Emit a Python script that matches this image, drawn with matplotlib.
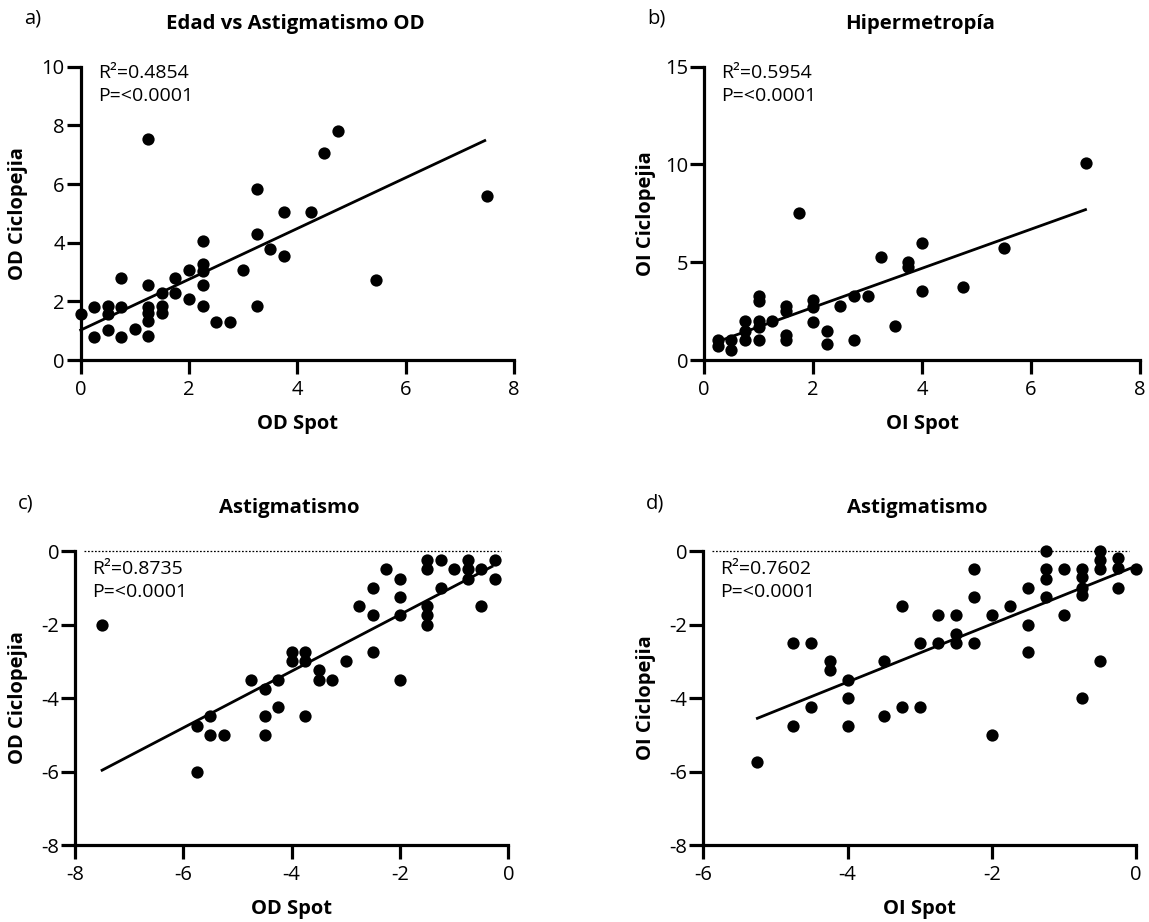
import numpy as np
import matplotlib
matplotlib.use('Agg')
import matplotlib.pyplot as plt

plt.rcParams['font.family'] = ['Open Sans', 'DejaVu Sans']
plt.rcParams['axes.unicode_minus'] = False

W, H = 1149, 922

# a) Edad vs Astigmatismo OD
a_x = [0, 0.25, 0.25, 0.5, 0.5, 0.5, 0.75, 0.75, 0.75, 1.0,
       1.25, 1.25, 1.25, 1.25, 1.25, 1.25, 1.5, 1.5, 1.5, 1.75,
       1.75, 2.0, 2.0, 2.25, 2.25, 2.25, 2.25, 2.25, 2.5, 2.75,
       3.0, 3.25, 3.25, 3.25, 3.5, 3.75, 3.75, 4.25, 4.5, 4.75,
       5.45, 7.5]
a_y = [1.57, 1.8, 0.8, 1.85, 1.57, 1.02, 2.8, 1.8, 0.8, 1.05,
       7.53, 2.56, 1.82, 1.59, 1.34, 0.82, 2.3, 1.85, 1.59, 2.8,
       2.3, 3.07, 2.08, 4.07, 3.27, 3.03, 2.56, 1.85, 1.3, 1.3,
       3.07, 5.82, 4.3, 1.83, 3.8, 5.05, 3.55, 5.05, 7.05, 7.8,
       2.74, 5.6]
a_fit = (0.866, 1.02, 0.0, 7.46)   # slope, intercept, x from, x to

# b) Hipermetropía
b_x = [0.25, 0.25, 0.5, 0.5, 0.75, 0.75, 0.75, 1.0, 1.0, 1.0,
       1.0, 1.0, 1.25, 1.5, 1.5, 1.5, 1.5, 1.75, 2.0, 2.0,
       2.0, 2.25, 2.25, 2.5, 2.75, 2.75, 3.0, 3.25, 3.5, 3.75,
       3.75, 4.0, 4.0, 4.75, 5.5, 7.0]
b_y = [1.0, 0.7, 1.0, 0.5, 2.0, 1.5, 1.0, 3.25, 3.0, 2.0,
       1.7, 1.0, 2.0, 2.75, 2.5, 1.3, 1.0, 7.5, 3.05, 2.7,
       1.95, 1.5, 0.8, 2.75, 3.25, 1.0, 3.25, 5.25, 1.75, 5.0,
       4.75, 6.0, 3.55, 3.75, 5.75, 10.05]
b_fit = (1.0, 0.69, 0.25, 7.0)

# c) Astigmatismo OD
c_x = [-7.5, -5.75, -5.75, -5.5, -5.5, -5.25, -4.75, -4.5, -4.5, -4.5,
       -4.25, -4.25, -4.0, -4.0, -3.75, -3.75, -3.75, -3.5, -3.5, -3.25,
       -3.0, -2.75, -2.5, -2.5, -2.5, -2.25, -2.0, -2.0, -2.0, -2.0,
       -1.5, -1.5, -1.5, -1.5, -1.5, -1.25, -1.25, -1.0, -0.75, -0.75,
       -0.75, -0.5, -0.5, -0.25, -0.25]
c_y = [-2.0, -4.75, -6.0, -4.5, -5.0, -5.0, -3.5, -3.75, -4.5, -5.0,
       -3.5, -4.25, -2.75, -3.0, -2.75, -3.0, -4.5, -3.25, -3.5, -3.5,
       -3.0, -1.5, -1.0, -1.75, -2.75, -0.5, -0.75, -1.25, -1.75, -3.5,
       -0.25, -0.5, -1.5, -1.75, -2.0, -0.25, -1.0, -0.5, -0.25, -0.5,
       -0.75, -0.5, -1.5, -0.25, -0.75]
c_fit = (0.77, -0.19, -7.5, -0.3)

# d) Astigmatismo OI
d_x = [-5.25, -4.75, -4.75, -4.5, -4.5, -4.25, -4.25, -4.0, -4.0, -4.0,
       -3.5, -3.5, -3.25, -3.25, -3.0, -3.0, -2.75, -2.75, -2.5, -2.5,
       -2.5, -2.25, -2.25, -2.25, -2.0, -2.0, -1.75, -1.5, -1.5, -1.5,
       -1.25, -1.25, -1.25, -1.25, -1.0, -1.0, -0.75, -0.75, -0.75, -0.75,
       -0.75, -0.5, -0.5, -0.5, -0.5, -0.25, -0.25, -0.25, 0.0]
d_y = [-5.75, -2.5, -4.75, -2.5, -4.25, -3.0, -3.25, -3.5, -4.0, -4.75,
       -3.0, -4.5, -1.5, -4.25, -2.5, -4.25, -1.75, -2.5, -1.75, -2.25,
       -2.5, -0.5, -1.25, -2.5, -1.75, -5.0, -1.5, -1.0, -2.0, -2.75,
       0.0, -0.5, -0.75, -1.25, -0.5, -1.75, -0.5, -0.7, -1.0, -1.2,
       -4.0, 0.0, -0.25, -0.5, -3.0, -0.2, -0.45, -1.0, -0.5]
d_fit = (0.789, -0.41, -5.25, -0.08)

# axes boxes in pixels: left, right, top, bottom; ylx = y label centre x
panels = [
    dict(x=a_x, y=a_y, fit=a_fit, box=(80.7, 514, 66.7, 360), ylx=18, xlim=(0, 8), ylim=(0, 10),
         xt=[0, 2, 4, 6, 8], yt=[0, 2, 4, 6, 8, 10], title='Edad vs Astigmatismo OD',
         xl='OD Spot', yl='OD Ciclopejia', r2='0.4854', tag='a)', zero=False, txt=6),
    dict(x=b_x, y=b_y, fit=b_fit, box=(704, 1140, 66.7, 360), ylx=646, xlim=(0, 8), ylim=(0, 15),
         xt=[0, 2, 4, 6, 8], yt=[0, 5, 10, 15], title='Hipermetropía',
         xl='OI Spot', yl='OI Ciclopejia', r2='0.5954', tag='b)', zero=False, txt=6),
    dict(x=c_x, y=c_y, fit=c_fit, box=(75, 508.3, 551, 845), ylx=18, xlim=(-8, 0), ylim=(-8, 0),
         xt=[-8, -6, -4, -2, 0], yt=[0, -2, -4, -6, -8], title='Astigmatismo',
         xl='OD Spot', yl='OD Ciclopejia', r2='0.8735', tag='c)', zero=True, txt=17.5),
    dict(x=d_x, y=d_y, fit=d_fit, box=(703.3, 1136, 551, 845), ylx=646, xlim=(-6, 0), ylim=(-8, 0),
         xt=[-6, -4, -2, 0], yt=[0, -2, -4, -6, -8], title='Astigmatismo',
         xl='OI Spot', yl='OI Ciclopejia', r2='0.7602', tag='d)', zero=True, txt=17.5),
]

fig = plt.figure(figsize=(W / 100, H / 100), dpi=100)

for p in panels:
    L, R, T, B = p['box']
    ax = fig.add_axes([L / W, 1 - B / H, (R - L) / W, (B - T) / H])
    aw, ah = R - L, B - T
    x = np.array(p['x'])
    y = np.array(p['y'])
    ax.scatter(x, y, s=78, color='black', zorder=3, clip_on=False, linewidths=0)
    k, b, x0, x1 = p['fit']
    xx = np.array([x0, x1])
    ax.plot(xx, k * xx + b, color='black', lw=2.0, zorder=2, clip_on=False)
    if p['zero']:
        # dotted zero line: x in axes fraction, y in data
        ax.plot([9 / aw, 1 - 7 / aw], [0, 0], transform=ax.get_yaxis_transform(),
                ls=(0, (1.4, 1.4)), color='black', lw=0.9, clip_on=False)
    ax.set_xlim(p['xlim'])
    ax.set_ylim(p['ylim'])
    ax.set_xticks(p['xt'])
    ax.set_yticks(p['yt'])
    for s in ['top', 'right']:
        ax.spines[s].set_visible(False)
    for s in ['left', 'bottom']:
        ax.spines[s].set_linewidth(2.3)
    ax.tick_params(width=2.3, length=10, labelsize=14.5)
    ax.tick_params(axis='x', pad=4.5)
    ax.tick_params(axis='y', pad=1.5)
    ax.set_xlabel(p['xl'], fontsize=14.5, fontweight='bold')
    ax.xaxis.set_label_coords(0.5, -64 / ah)
    ax.xaxis.label.set_verticalalignment('center')
    ax.set_ylabel(p['yl'], fontsize=14.5, fontweight='bold')
    ax.yaxis.set_label_coords(-(L - p['ylx']) / aw, 0.5)
    ax.yaxis.label.set_verticalalignment('center')
    ax.text(17 / aw, 1 - p['txt'] / ah, 'R²=' + p['r2'], transform=ax.transAxes,
            fontsize=14, va='center', ha='left')
    ax.text(17 / aw, 1 - (p['txt'] + 23) / ah, 'P=<0.0001', transform=ax.transAxes,
            fontsize=14, va='center', ha='left')
    fig.text((L + R) / 2 / W - 2 / W, 1 - (T - 43) / H, p['title'], fontsize=14.7,
             fontweight='bold', ha='center', va='center')
    fig.text((L - 57) / W, 1 - (T - 48) / H, p['tag'], fontsize=14.5, ha='left', va='center')

fig.savefig('out.png', dpi=100)
